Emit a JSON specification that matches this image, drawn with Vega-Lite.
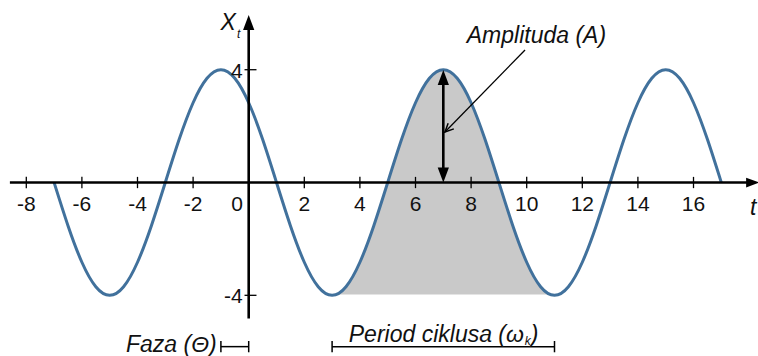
{
  "$schema": "https://vega.github.io/schema/vega-lite/v6.json",
  "width": 758,
  "height": 356,
  "autosize": "none",
  "padding": 0,
  "background": "white",
  "config": {"view": {"stroke": null}},
  "datasets": {
    "wave": [
      {"t": -7, "x": 0}, {"t": -6.5, "x": -1.531}, {"t": -6, "x": -2.828}, {"t": -5.5, "x": -3.696},
      {"t": -5, "x": -4}, {"t": -4.5, "x": -3.696}, {"t": -4, "x": -2.828}, {"t": -3.5, "x": -1.531},
      {"t": -3, "x": 0}, {"t": -2.5, "x": 1.531}, {"t": -2, "x": 2.828}, {"t": -1.5, "x": 3.696},
      {"t": -1, "x": 4}, {"t": -0.5, "x": 3.696}, {"t": 0, "x": 2.828}, {"t": 0.5, "x": 1.531},
      {"t": 1, "x": 0}, {"t": 1.5, "x": -1.531}, {"t": 2, "x": -2.828}, {"t": 2.5, "x": -3.696},
      {"t": 3, "x": -4}, {"t": 3.5, "x": -3.696}, {"t": 4, "x": -2.828}, {"t": 4.5, "x": -1.531},
      {"t": 5, "x": 0}, {"t": 5.5, "x": 1.531}, {"t": 6, "x": 2.828}, {"t": 6.5, "x": 3.696},
      {"t": 7, "x": 4}, {"t": 7.5, "x": 3.696}, {"t": 8, "x": 2.828}, {"t": 8.5, "x": 1.531},
      {"t": 9, "x": 0}, {"t": 9.5, "x": -1.531}, {"t": 10, "x": -2.828}, {"t": 10.5, "x": -3.696},
      {"t": 11, "x": -4}, {"t": 11.5, "x": -3.696}, {"t": 12, "x": -2.828}, {"t": 12.5, "x": -1.531},
      {"t": 13, "x": 0}, {"t": 13.5, "x": 1.531}, {"t": 14, "x": 2.828}, {"t": 14.5, "x": 3.696},
      {"t": 15, "x": 4}, {"t": 15.5, "x": 3.696}, {"t": 16, "x": 2.828}, {"t": 16.5, "x": 1.531},
      {"t": 17, "x": 0}
    ],
    "shade": [
      {"t": 3, "x": -4}, {"t": 3.5, "x": -3.696}, {"t": 4, "x": -2.828}, {"t": 4.5, "x": -1.531},
      {"t": 5, "x": 0}, {"t": 5.5, "x": 1.531}, {"t": 6, "x": 2.828}, {"t": 6.5, "x": 3.696},
      {"t": 7, "x": 4}, {"t": 7.5, "x": 3.696}, {"t": 8, "x": 2.828}, {"t": 8.5, "x": 1.531},
      {"t": 9, "x": 0}, {"t": 9.5, "x": -1.531}, {"t": 10, "x": -2.828}, {"t": 10.5, "x": -3.696},
      {"t": 11, "x": -4}
    ],
    "axisLines": [
      {"x1": -8.59, "y1": 0, "x2": 18.1, "y2": 0},
      {"x1": 0, "y1": -4.82, "x2": 0, "y2": 5.6},
      {"x1": 7, "y1": 0.3, "x2": 7, "y2": 3.7}
    ],
    "xlabels": [
      {"t": -8, "label": "-8"}, {"t": -6, "label": "-6"}, {"t": -4, "label": "-4"}, {"t": -2, "label": "-2"},
      {"t": -0.42, "label": "0"}, {"t": 2, "label": "2"}, {"t": 4, "label": "4"}, {"t": 6, "label": "6"},
      {"t": 8, "label": "8"}, {"t": 10, "label": "10"}, {"t": 12, "label": "12"}, {"t": 14, "label": "14"},
      {"t": 16, "label": "16"}
    ],
    "ylabels": [{"v": 4, "ly": 3.92, "label": "4"}, {"v": -4, "ly": -4.06, "label": "-4"}],
    "bracketLines": [{"a": -1, "b": 0}, {"a": 3, "b": 11}],
    "bracketEnds": [{"t": -1}, {"t": 0}, {"t": 3}, {"t": 11}],
    "pointer": [{"x1": 9.94, "y1": 4.7, "x2": 7.06, "y2": 1.79}],
    "pointerTip": [{"x": 7.06, "y": 1.79}],
    "upTips": [{"x": 0, "y": 5.94}, {"x": 7, "y": 3.99}],
    "downTips": [{"x": 7, "y": 0}],
    "rightTips": [{"x": 18.36, "y": 0}],
    "notes": [
      {"x": 10.35, "y": 4.95, "label": "Amplituda (A)"},
      {"x": -0.74, "y": 5.42, "label": "X"},
      {"x": 18.15, "y": -1.15, "label": "t"}
    ],
    "notesRight": [
      {"x": -1.15, "y": -6.0, "label": "Faza (Θ)"},
      {"x": 9.9, "y": -5.65, "label": "Period ciklusa (ω"}
    ],
    "subs": [{"x": -0.42, "y": 5.12, "label": "t"}, {"x": 9.93, "y": -5.76, "label": "k"}],
    "closeParen": [{"x": 10.15, "y": -5.65, "label": ")"}]
  },
  "encoding": {},
  "layer": [
    {
      "data": {"name": "shade"},
      "mark": {"type": "area", "interpolate": "natural", "color": "#c9c9c9"},
      "encoding": {
        "x": {"field": "t", "type": "quantitative", "scale": {"domain": [-8.946, 18.32], "nice": false, "zero": false}, "axis": null},
        "y": {"field": "x", "type": "quantitative", "scale": {"domain": [-6.152, 6.472], "nice": false, "zero": false}, "axis": null},
        "y2": {"datum": -3.97}
      }
    },
    {
      "data": {"name": "wave"},
      "mark": {"type": "line", "interpolate": "natural", "color": "#41719c", "strokeWidth": 3},
      "encoding": {
        "x": {"field": "t", "type": "quantitative", "axis": null},
        "y": {"field": "x", "type": "quantitative", "axis": null}
      }
    },
    {
      "data": {"name": "axisLines"},
      "mark": {"type": "rule", "color": "#000", "strokeWidth": 2.6},
      "encoding": {
        "x": {"field": "x1", "type": "quantitative", "axis": null},
        "x2": {"field": "x2"},
        "y": {"field": "y1", "type": "quantitative", "axis": null},
        "y2": {"field": "y2"}
      }
    },
    {
      "data": {"name": "xlabels"},
      "transform": [{"filter": "datum.label != '0'"}],
      "mark": {"type": "rule", "color": "#000", "strokeWidth": 1.3},
      "encoding": {
        "x": {"field": "t", "type": "quantitative", "axis": null},
        "y": {"datum": -0.2, "type": "quantitative", "axis": null},
        "y2": {"datum": 0.2}
      }
    },
    {
      "data": {"name": "ylabels"},
      "mark": {"type": "rule", "color": "#000", "strokeWidth": 1.3},
      "encoding": {
        "x": {"datum": -0.15, "type": "quantitative", "axis": null},
        "x2": {"datum": 0.28},
        "y": {"field": "v", "type": "quantitative", "axis": null}
      }
    },
    {
      "data": {"name": "bracketLines"},
      "mark": {"type": "rule", "color": "#000", "strokeWidth": 1.5},
      "encoding": {
        "x": {"field": "a", "type": "quantitative", "axis": null},
        "x2": {"field": "b"},
        "y": {"datum": -5.82, "type": "quantitative", "axis": null}
      }
    },
    {
      "data": {"name": "bracketEnds"},
      "mark": {"type": "rule", "color": "#000", "strokeWidth": 1.5},
      "encoding": {
        "x": {"field": "t", "type": "quantitative", "axis": null},
        "y": {"datum": -6.02, "type": "quantitative", "axis": null},
        "y2": {"datum": -5.62}
      }
    },
    {
      "data": {"name": "pointer"},
      "mark": {"type": "rule", "color": "#000", "strokeWidth": 1.3},
      "encoding": {
        "x": {"field": "x1", "type": "quantitative", "axis": null},
        "x2": {"field": "x2"},
        "y": {"field": "y1", "type": "quantitative", "axis": null},
        "y2": {"field": "y2"}
      }
    },
    {
      "data": {"name": "pointerTip"},
      "mark": {"type": "point", "shape": "M-0.8,1.7L0,0L0.8,1.7", "size": 100, "angle": 225, "filled": false, "stroke": "#000", "strokeWidth": 1.5, "opacity": 1},
      "encoding": {
        "x": {"field": "x", "type": "quantitative", "axis": null},
        "y": {"field": "y", "type": "quantitative", "axis": null}
      }
    },
    {
      "data": {"name": "upTips"},
      "mark": {"type": "point", "shape": "M0,0L-0.75,2L0.75,2Z", "size": 225, "angle": 0, "filled": true, "color": "#000", "opacity": 1},
      "encoding": {
        "x": {"field": "x", "type": "quantitative", "axis": null},
        "y": {"field": "y", "type": "quantitative", "axis": null}
      }
    },
    {
      "data": {"name": "downTips"},
      "mark": {"type": "point", "shape": "M0,0L-0.75,2L0.75,2Z", "size": 225, "angle": 180, "filled": true, "color": "#000", "opacity": 1},
      "encoding": {
        "x": {"field": "x", "type": "quantitative", "axis": null},
        "y": {"field": "y", "type": "quantitative", "axis": null}
      }
    },
    {
      "data": {"name": "rightTips"},
      "mark": {"type": "point", "shape": "M0,0L-0.75,2L0.75,2Z", "size": 169, "angle": 90, "filled": true, "color": "#000", "opacity": 1},
      "encoding": {
        "x": {"field": "x", "type": "quantitative", "axis": null},
        "y": {"field": "y", "type": "quantitative", "axis": null}
      }
    },
    {
      "data": {"name": "xlabels"},
      "mark": {"type": "text", "font": "Liberation Sans", "fontSize": 21, "baseline": "middle", "align": "center", "color": "#111"},
      "encoding": {
        "x": {"field": "t", "type": "quantitative", "axis": null},
        "y": {"datum": -0.8, "type": "quantitative", "axis": null},
        "text": {"field": "label"}
      }
    },
    {
      "data": {"name": "ylabels"},
      "mark": {"type": "text", "font": "Liberation Sans", "fontSize": 21, "baseline": "middle", "align": "right", "color": "#111"},
      "encoding": {
        "x": {"datum": -0.22, "type": "quantitative", "axis": null},
        "y": {"field": "ly", "type": "quantitative", "axis": null},
        "text": {"field": "label"}
      }
    },
    {
      "data": {"name": "notes"},
      "mark": {"type": "text", "font": "Liberation Sans", "fontSize": 23, "fontStyle": "italic", "baseline": "alphabetic", "align": "center", "color": "#111"},
      "encoding": {
        "x": {"field": "x", "type": "quantitative", "axis": null},
        "y": {"field": "y", "type": "quantitative", "axis": null},
        "text": {"field": "label"}
      }
    },
    {
      "data": {"name": "notesRight"},
      "mark": {"type": "text", "font": "Liberation Sans", "fontSize": 23, "fontStyle": "italic", "baseline": "alphabetic", "align": "right", "color": "#111"},
      "encoding": {
        "x": {"field": "x", "type": "quantitative", "axis": null},
        "y": {"field": "y", "type": "quantitative", "axis": null},
        "text": {"field": "label"}
      }
    },
    {
      "data": {"name": "subs"},
      "mark": {"type": "text", "font": "Liberation Sans", "fontSize": 12, "fontStyle": "italic", "baseline": "alphabetic", "align": "left", "color": "#111"},
      "encoding": {
        "x": {"field": "x", "type": "quantitative", "axis": null},
        "y": {"field": "y", "type": "quantitative", "axis": null},
        "text": {"field": "label"}
      }
    },
    {
      "data": {"name": "closeParen"},
      "mark": {"type": "text", "font": "Liberation Sans", "fontSize": 23, "fontStyle": "italic", "baseline": "alphabetic", "align": "left", "color": "#111"},
      "encoding": {
        "x": {"field": "x", "type": "quantitative", "axis": null},
        "y": {"field": "y", "type": "quantitative", "axis": null},
        "text": {"field": "label"}
      }
    }
  ]
}
